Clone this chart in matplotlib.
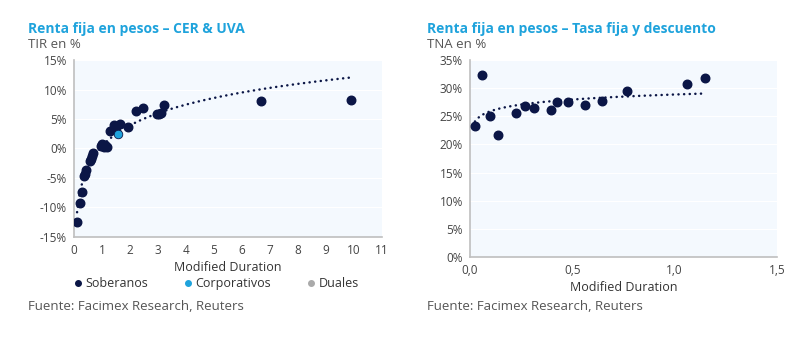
import numpy as np
import matplotlib.pyplot as plt
from matplotlib.ticker import FuncFormatter
from matplotlib.lines import Line2D

# CER & UVA (left)
sob_md = [0.11, 0.21, 0.29, 0.36, 0.40, 0.43, 0.57, 0.60, 0.64, 0.68, 0.96, 1.00, 1.07,
          1.12, 1.18, 1.29, 1.43, 1.50, 1.64, 1.93, 2.21, 2.46, 2.96, 3.04, 3.10, 3.21,
          6.68, 9.89]
sob_tir = [-12.4, -9.3, -7.3, -4.7, -4.3, -3.7, -2.2, -1.8, -1.2, -0.7, 0.5, 0.7, 0.3,
           0.6, 0.2, 2.9, 3.9, 3.7, 4.1, 3.7, 6.3, 6.8, 5.9, 5.9, 6.0, 7.3,
           8.0, 8.3]
corp_md = [1.57]
corp_tir = [2.5]

# Tasa fija y descuento (right)
tf_md = [0.024, 0.057, 0.098, 0.135, 0.225, 0.27, 0.313, 0.394, 0.427, 0.479,
         0.56, 0.646, 0.77, 1.06, 1.148]
tf_tna = [23.3, 32.4, 25.1, 21.7, 25.5, 26.8, 26.4, 26.1, 27.6, 27.6,
          27.0, 27.8, 29.5, 30.7, 31.8]

navy = '#0b1646'
cyan = '#1fa3dc'
gray = '#555555'
bg = '#f4f9fe'

plt.rcParams['font.family'] = ['Open Sans', 'DejaVu Sans']

fig = plt.figure(figsize=(8, 3.4), dpi=100)
ax1 = fig.add_axes([0.0925, 0.303, 0.385, 0.5205])
ax2 = fig.add_axes([0.5875, 0.244, 0.3835, 0.5795])


def style(ax):
    ax.set_facecolor(bg)
    for s in ['top', 'right']:
        ax.spines[s].set_visible(False)
    for s in ['left', 'bottom']:
        ax.spines[s].set_color('#bfbfbf')
        ax.spines[s].set_linewidth(1.2)
    ax.tick_params(length=0, labelsize=8.5, labelcolor='#444444', pad=5)
    ax.grid(axis='y', color='white', lw=0.8)
    ax.set_axisbelow(True)


def log_trend(x, y, xmin, xmax):
    b, a = np.polyfit(np.log(x), y, 1)
    xs = np.linspace(xmin, xmax, 200)
    return xs, a + b * np.log(xs)


dots = (0, (0.05, 2.2))

# left chart
style(ax1)
all_md = np.array(sob_md + corp_md)
all_tir = np.array(sob_tir + corp_tir)
xs, ys = log_trend(all_md, all_tir, min(all_md), max(all_md))
ax1.plot(xs, ys, color=navy, lw=1.8, ls=dots, dash_capstyle='round', zorder=2)
ax1.scatter(sob_md, sob_tir, s=38, color=navy, zorder=3)
ax1.scatter(corp_md, corp_tir, s=38, color=cyan, edgecolor=navy, lw=0.6, zorder=4)
ax1.set_xlim(0, 11)
ax1.set_ylim(-15, 15)
ax1.set_xticks(range(0, 12))
ax1.set_yticks(range(-15, 16, 5))
ax1.yaxis.set_major_formatter(FuncFormatter(lambda v, p: f'{v:.0f}%'))
ax1.set_xlabel('Modified Duration', fontsize=9, color='#333333', labelpad=3)

handles = [Line2D([], [], ls='', marker='o', ms=4, color=c) for c in [navy, cyan, '#aaaaaa']]
ax1.legend(handles, ['Soberanos', 'Corporativos', 'Duales'], ncol=3, frameon=False,
           loc='center', bbox_to_anchor=(0.462, -0.265), fontsize=9, handlelength=0.6,
           handletextpad=0.3, columnspacing=2.9, labelcolor='#333333')

# right chart
style(ax2)
xs, ys = log_trend(np.array(tf_md), np.array(tf_tna), min(tf_md), max(tf_md))
ax2.plot(xs, ys, color=navy, lw=1.8, ls=dots, dash_capstyle='round', zorder=2)
ax2.scatter(tf_md, tf_tna, s=38, color=navy, zorder=3)
ax2.set_xlim(0, 1.5)
ax2.set_ylim(0, 35)
ax2.set_xticks([0, 0.5, 1.0, 1.5])
ax2.xaxis.set_major_formatter(FuncFormatter(lambda v, p: f'{v:.1f}'.replace('.', ',')))
ax2.set_yticks(range(0, 36, 5))
ax2.yaxis.set_major_formatter(FuncFormatter(lambda v, p: f'{v:.0f}%'))
ax2.set_xlabel('Modified Duration', fontsize=9, color='#333333', labelpad=3)

# titles and notes
fig.text(28 / 800, 1 - 29 / 340, 'Renta fija en pesos – CER & UVA', fontsize=10,
         fontweight='bold', color=cyan, va='center')
fig.text(28 / 800, 1 - 45 / 340, 'TIR en %', fontsize=9.5, color=gray, va='center')
fig.text(28 / 800, 1 - 306 / 340, 'Fuente: Facimex Research, Reuters', fontsize=9.5,
         color=gray, va='center')
fig.text(427 / 800, 1 - 29 / 340, 'Renta fija en pesos – Tasa fija y descuento', fontsize=10,
         fontweight='bold', color=cyan, va='center')
fig.text(427 / 800, 1 - 45 / 340, 'TNA en %', fontsize=9.5, color=gray, va='center')
fig.text(427 / 800, 1 - 306 / 340, 'Fuente: Facimex Research, Reuters', fontsize=9.5,
         color=gray, va='center')

fig.savefig('out.png', dpi=100, facecolor='white')
